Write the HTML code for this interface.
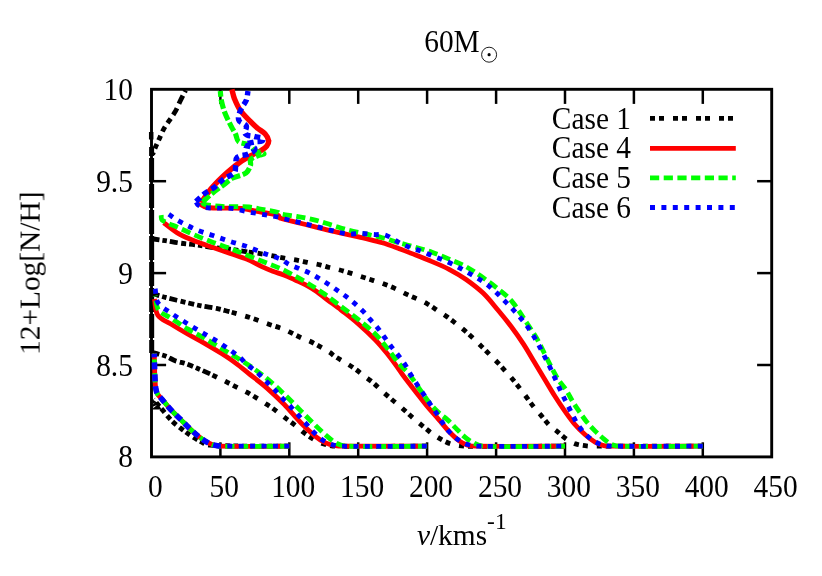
<!DOCTYPE html>
<html><head><meta charset="utf-8"><title>60M</title>
<style>
html,body{margin:0;padding:0;background:#fff;}
body{width:822px;height:576px;overflow:hidden;}
svg{display:block;}
text{font-family:"Liberation Serif",serif;font-size:29.4px;fill:#000;}
</style></head><body>
<svg width="822" height="576" viewBox="0 0 822 576">
<rect width="822" height="576" fill="#fff"/>
<g stroke="#000" stroke-width="2.5" fill="none">
<rect x="151.5" y="89.3" width="620.2" height="367.6" stroke-width="2.9"/>
<line x1="220.4" y1="456.9" x2="220.4" y2="442.29999999999995"/>
<line x1="220.4" y1="89.3" x2="220.4" y2="103.89999999999999"/>
<line x1="289.3" y1="456.9" x2="289.3" y2="442.29999999999995"/>
<line x1="289.3" y1="89.3" x2="289.3" y2="103.89999999999999"/>
<line x1="358.2" y1="456.9" x2="358.2" y2="442.29999999999995"/>
<line x1="358.2" y1="89.3" x2="358.2" y2="103.89999999999999"/>
<line x1="427.1" y1="456.9" x2="427.1" y2="442.29999999999995"/>
<line x1="427.1" y1="89.3" x2="427.1" y2="103.89999999999999"/>
<line x1="496.1" y1="456.9" x2="496.1" y2="442.29999999999995"/>
<line x1="496.1" y1="89.3" x2="496.1" y2="103.89999999999999"/>
<line x1="565.0" y1="456.9" x2="565.0" y2="442.29999999999995"/>
<line x1="565.0" y1="89.3" x2="565.0" y2="103.89999999999999"/>
<line x1="633.9" y1="456.9" x2="633.9" y2="442.29999999999995"/>
<line x1="633.9" y1="89.3" x2="633.9" y2="103.89999999999999"/>
<line x1="702.8" y1="456.9" x2="702.8" y2="442.29999999999995"/>
<line x1="702.8" y1="89.3" x2="702.8" y2="103.89999999999999"/>
<line x1="151.5" y1="365.0" x2="166.1" y2="365.0"/>
<line x1="771.7" y1="365.0" x2="757.1" y2="365.0"/>
<line x1="151.5" y1="273.1" x2="166.1" y2="273.1"/>
<line x1="771.7" y1="273.1" x2="757.1" y2="273.1"/>
<line x1="151.5" y1="181.2" x2="166.1" y2="181.2"/>
<line x1="771.7" y1="181.2" x2="757.1" y2="181.2"/>
</g>
<g id="curves" stroke-linecap="butt">
<path d="M702.8,446.2 C667.8,446.2 632.7,446.2 597.7,446.2 C594.6,446.2 591.5,446.4 588.4,446.1 C584.1,445.7 579.7,445.2 575.6,443.9 C572.6,443.0 569.7,441.4 567.1,439.6 C563.4,437.1 560.3,433.9 556.8,431.1 C554.3,429.1 551.5,427.4 549.2,425.1 C546.1,422.0 543.6,418.3 540.7,414.9 C538.7,412.6 536.6,410.5 534.7,408.1 C532.0,404.7 529.5,401.2 526.9,397.7 C524.9,395.0 522.9,392.3 520.9,389.7 C518.1,386.1 515.3,382.5 512.4,379.0 C510.5,376.7 508.4,374.5 506.4,372.2 C503.6,369.1 500.8,365.9 497.9,362.8 C495.7,360.5 493.4,358.3 491.1,356.0 C488.0,352.9 484.8,349.7 481.7,346.6 C479.4,344.3 477.2,342.0 474.9,339.8 C471.8,336.9 468.7,334.1 465.5,331.3 C463.0,329.1 460.5,327.0 457.9,325.0 C454.4,322.3 451.0,319.6 447.4,317.0 C444.9,315.2 442.3,313.6 439.7,311.9 C435.7,309.3 431.9,306.6 427.8,304.2 C425.4,302.8 422.9,301.5 420.3,300.3 C416.1,298.3 411.7,296.7 407.5,294.7 C403.2,292.7 399.1,290.3 394.8,288.4 C390.6,286.5 386.3,284.9 382.0,283.3 C379.2,282.3 376.3,281.5 373.5,280.6 C369.2,279.2 365.0,277.9 360.7,276.5 C357.6,275.5 354.5,274.4 351.3,273.4 C347.2,272.1 343.0,270.8 338.8,269.7 C335.7,268.9 332.5,268.3 329.4,267.5 C326.3,266.7 323.2,265.6 320.0,264.9 C315.8,263.9 311.5,263.3 307.3,262.4 C303.9,261.7 300.5,260.8 297.0,260.2 C292.8,259.4 288.5,258.9 284.3,258.1 C277.6,256.9 270.9,255.4 264.2,254.3 C258.6,253.3 252.9,252.6 247.2,251.8" fill="none" stroke="#000" stroke-width="4.8" stroke-linejoin="round" stroke-dasharray="5 4 5 9"/>
<path d="M153.5,239.0 C157.5,239.6 161.4,240.1 165.4,240.7 C170.5,241.5 175.6,242.5 180.8,243.2 C185.9,243.9 191.0,244.2 196.1,244.9 C201.8,245.7 207.4,246.8 213.1,247.5 C218.8,248.2 224.5,248.5 230.2,249.2 C235.9,249.9 241.5,250.9 247.2,251.8" fill="none" stroke="#000" stroke-width="4.8" stroke-linejoin="round" stroke-dasharray="6 3 4.5 3 8 3.5 5 3"/>
<path d="M565.0,446.2 C532.0,446.2 499.0,446.8 466.0,446.2 C461.4,446.1 456.9,445.4 452.4,444.3 C449.4,443.6 446.6,442.3 443.9,440.9 C440.1,438.9 436.4,436.6 432.8,434.1 C430.1,432.3 427.7,430.1 425.2,428.1 C421.7,425.3 418.3,422.5 414.9,419.6 C412.3,417.4 409.8,415.1 407.3,412.8 C404.7,410.5 402.2,408.2 399.6,406.0 C396.2,403.1 392.8,400.4 389.4,397.5 C387.1,395.5 384.8,393.5 382.6,391.5 C379.2,388.4 375.9,385.1 372.4,382.1 C370.2,380.3 367.8,378.7 365.5,377.0 C361.8,374.2 358.3,371.2 354.5,368.5 C352.1,366.8 349.6,365.2 347.1,363.7 C343.1,361.2 339.0,359.0 335.1,356.5 C333.3,355.3 331.8,353.8 330.0,352.6 C327.5,351.0 325.0,349.5 322.4,348.0 C318.4,345.8 314.5,343.5 310.4,341.5 C307.7,340.2 304.7,339.4 301.9,338.1 C297.9,336.3 294.0,334.1 290.0,332.2 C287.7,331.1 285.4,329.8 283.0,328.9 C277.9,327.0 272.7,325.6 267.6,323.8 C261.9,321.9 256.3,319.6 250.6,317.8 C243.9,315.6 237.0,313.8 230.2,311.8" fill="none" stroke="#000" stroke-width="4.8" stroke-linejoin="round" stroke-dasharray="5 4 5 9"/>
<path d="M153.5,294.0 C157.5,295.1 161.4,296.4 165.4,297.4 C171.1,298.9 176.8,300.2 182.5,301.6 C188.7,303.1 194.9,304.6 201.2,305.9 C206.3,306.9 211.4,307.4 216.5,308.4 C221.1,309.3 225.6,310.7 230.2,311.8" fill="none" stroke="#000" stroke-width="4.8" stroke-linejoin="round" stroke-dasharray="6 3 4.5 3 8 3.5 5 3"/>
<path d="M427.1,446.2 C397.1,446.2 367.0,446.5 336.9,446.2 C334.0,446.2 331.2,445.8 328.4,445.2 C325.5,444.6 322.6,443.8 319.8,442.6 C317.1,441.5 314.7,439.9 312.2,438.4 C309.6,436.8 307.0,435.1 304.5,433.2 C301.0,430.5 297.8,427.5 294.3,424.7 C292.1,422.9 289.8,421.3 287.5,419.6 C283.8,416.8 280.1,413.9 276.4,411.1 C273.6,409.0 270.8,407.0 267.9,405.1 C264.8,403.1 261.7,401.1 258.5,399.2 C254.8,396.9 251.0,394.5 247.2,392.4 C243.9,390.6 240.4,389.0 237.0,387.3 C232.5,385.0 227.9,382.7 223.4,380.4 C219.4,378.4 215.4,376.5 211.4,374.5" fill="none" stroke="#000" stroke-width="4.8" stroke-linejoin="round" stroke-dasharray="5 4 5 9"/>
<path d="M153.5,352.7 C157.5,353.8 161.5,354.7 165.4,356.1 C169.0,357.4 172.1,359.6 175.7,360.9 C179.0,362.1 182.6,362.6 185.9,363.7 C189.9,365.1 193.9,366.8 197.8,368.5 C202.4,370.4 206.9,372.5 211.4,374.5" fill="none" stroke="#000" stroke-width="4.8" stroke-linejoin="round" stroke-dasharray="6 3 4.5 3 8 3.5 5 3"/>
<path d="M289.3,446.2 C262.8,445.9 236.2,446.5 209.7,445.2 C206.7,445.0 203.9,443.2 201.2,441.8 C197.7,440.0 194.3,438.0 191.0,435.8 C187.8,433.7 184.7,431.4 181.6,429.0 C178.4,426.5 175.1,424.1 172.3,421.3 C168.6,417.6 165.4,413.4 162.0,409.4 C159.1,406.0 156.3,402.6 153.5,399.2" fill="none" stroke="#000" stroke-width="4.8" stroke-linejoin="round" stroke-dasharray="5 3 5 4"/>
<path d="M152.6,399.5 L157.5,402.8 L162.8,411.5 L160,409.6 L152.6,409.6 Z" fill="#000" stroke="none"/>
<path d="M153.2,406.4 L157,405 L153.2,408.3 Z M153.4,403.4 L154.6,402.6 L153.4,404.4 Z" fill="#fff" stroke="none"/>
<path d="M151.7,353 L151.6,147" fill="none" stroke="#000" stroke-width="5" stroke-linejoin="round" stroke-dasharray="24 2" stroke-dashoffset="11"/>
<path d="M185.6,90.3 C183.6,94.3 181.5,98.3 179.6,102.3 C178.3,105.1 177.3,108.0 175.8,110.7 C173.8,114.2 171.4,117.4 169.2,120.7 C167.2,123.7 165.0,126.6 163.3,129.8 C161.7,132.7 160.6,135.9 159.2,139.0 C157.8,142.1 156.3,145.1 155.0,148.2 C154.1,150.3 153.4,152.4 152.6,154.5" fill="none" stroke="#000" stroke-width="4.8" stroke-linejoin="round" stroke-dasharray="2 4 9 5 7.5 4.5 5.5 4.5 5.5 4.5 5 4 5 4 5 4 40 0"/>
<path d="M151.2,132 V139.5" fill="none" stroke="#000" stroke-width="4.5" stroke-linejoin="round"/>
<path d="M702.8,446.2 C672.6,446.2 642.4,446.4 612.2,446.2 C609.4,446.2 606.5,446.3 603.7,445.6 C600.7,444.9 597.8,443.8 595.2,442.2 C591.5,440.0 588.1,437.3 584.9,434.5 C581.3,431.3 577.8,428.0 574.7,424.3 C571.0,420.0 567.8,415.3 564.5,410.7 C561.0,405.7 557.6,400.5 554.3,395.3 C550.7,389.6 547.4,383.8 543.9,378.1 C540.5,372.4 537.1,366.8 533.7,361.1 C530.3,355.4 527.1,349.6 523.5,344.1 C519.7,338.3 515.7,332.6 511.5,327.0 C507.1,321.2 502.6,315.6 497.9,310.0 C493.1,304.3 488.5,298.3 483.1,293.1 C477.9,288.1 472.0,283.7 466.1,279.5 C460.7,275.7 455.0,272.4 449.1,269.3 C443.6,266.4 437.8,264.0 432.0,261.6 C426.4,259.2 420.7,257.0 415.0,254.8 C409.8,252.8 404.5,250.7 399.2,248.8 C393.6,246.7 388.0,244.5 382.2,242.8 C376.6,241.1 370.9,239.9 365.2,238.5 C359.5,237.1 353.8,235.9 348.1,234.6 C342.4,233.3 336.7,232.2 331.1,230.9 C325.4,229.6 319.8,228.0 314.1,226.6 C308.4,225.2 302.7,223.8 297.0,222.4 C291.3,221.0 285.5,220.1 280.0,218.1 C279.1,217.8 279.4,215.9 278.5,215.6 C273.8,214.0 268.7,213.6 263.8,212.6 C259.9,211.8 255.9,211.1 252.0,210.4 C248.5,209.7 245.1,208.7 241.6,208.4 C236.7,208.0 231.8,208.3 226.9,208.2 C220.5,208.0 214.0,208.4 207.7,207.5 C205.2,207.2 202.7,206.1 200.6,204.6 C200.0,204.2 200.9,203.3 201.1,202.6" fill="none" stroke="#f00" stroke-width="4.8" stroke-linejoin="round"/>
<path d="M565.0,446.2 C535.4,446.2 505.9,446.5 476.3,446.2 C473.4,446.2 470.5,446.1 467.7,445.2 C464.7,444.3 461.8,442.8 459.2,440.9 C455.5,438.2 452.2,434.8 449.0,431.5 C445.4,427.7 442.2,423.5 438.8,419.6 C434.9,415.0 430.7,410.6 426.9,406.0 C422.8,401.0 418.9,395.8 414.9,390.7 C410.9,385.6 406.9,380.5 403.0,375.3 C401.0,372.6 399.3,369.8 397.3,367.1 C394.0,362.5 390.7,357.9 387.1,353.5 C383.3,348.8 379.4,344.1 375.2,339.8 C369.7,334.2 364.0,328.9 358.1,323.7 C352.6,318.9 346.8,314.5 341.1,310.0 C335.5,305.7 329.7,301.6 324.1,297.3 C321.6,295.4 319.2,293.3 316.6,291.5 C313.1,289.1 309.4,286.9 305.7,284.9 C302.1,283.0 298.4,281.5 294.7,279.8 C291.1,278.2 287.5,276.5 283.8,275.0 C280.2,273.6 276.4,272.6 272.8,271.2 C269.1,269.8 265.5,268.3 261.9,266.6 C256.9,264.3 252.2,261.5 247.2,259.4 C241.7,257.1 235.9,255.5 230.2,253.5 C224.5,251.5 218.8,249.5 213.1,247.5 C207.4,245.5 201.7,243.7 196.1,241.5 C190.3,239.2 184.4,237.0 179.0,233.9 C173.5,230.8 168.8,226.5 163.7,222.8" fill="none" stroke="#f00" stroke-width="4.8" stroke-linejoin="round"/>
<path d="M427.1,446.2 C399.9,446.2 372.6,446.3 345.4,446.2 C342.0,446.2 338.6,446.3 335.2,445.7 C331.7,445.1 328.2,444.1 325.0,442.6 C321.3,440.8 317.9,438.4 314.7,435.8 C309.9,431.9 305.4,427.5 301.1,423.0 C295.2,417.0 290.0,410.3 284.1,404.3 C278.6,398.7 272.9,393.3 267.0,388.1 C261.5,383.3 255.7,379.0 250.0,374.5 C245.1,370.6 240.3,366.6 235.3,362.9 C230.9,359.6 226.3,356.6 221.6,353.6 C216.0,350.1 210.3,346.7 204.6,343.4 C199.0,340.2 193.2,337.2 187.6,334.0 C181.8,330.7 176.1,327.3 170.5,323.8 C166.2,321.1 160.6,319.5 157.8,315.2 C154.8,310.6 155.5,304.5 154.4,299.1" fill="none" stroke="#f00" stroke-width="4.8" stroke-linejoin="round"/>
<path d="M289.3,446.2 C266.2,446.2 243.1,446.8 220.0,446.2 C217.1,446.1 214.1,445.4 211.4,444.3 C207.8,442.8 204.4,440.7 201.2,438.4 C197.6,435.8 194.3,432.8 191.0,429.8 C187.5,426.5 184.2,423.0 180.8,419.6 C177.4,416.2 173.8,413.0 170.5,409.4 C167.5,406.1 164.8,402.6 162.0,399.2 C160.4,397.3 158.4,395.7 157.2,393.5 C156.3,391.8 156.0,389.9 155.7,388.0 C155.2,384.4 155.1,380.7 154.9,377.0 C154.7,372.7 154.6,368.3 154.5,364.0 C154.4,360.5 154.4,357.1 154.3,353.6" fill="none" stroke="#f00" stroke-width="4.8" stroke-linejoin="round"/>
<path d="M201.1,202.6 C204.8,197.6 208.0,192.3 212.1,187.6 C216.7,182.3 221.7,177.5 226.9,172.8 C231.6,168.6 236.5,164.6 241.6,161.0 C244.9,158.7 248.5,157.0 252.0,155.1 C254.9,153.5 258.0,152.4 260.8,150.7 C262.9,149.4 265.2,148.2 266.7,146.2 C267.9,144.6 268.9,142.5 268.6,140.5 C268.3,138.0 266.7,135.6 265.0,133.7 C263.0,131.5 260.1,130.4 257.9,128.5 C255.3,126.3 252.9,124.0 250.6,121.6 C247.1,118.0 243.3,114.6 240.4,110.5 C237.8,106.9 236.1,102.7 234.4,98.6 C233.2,95.6 232.7,92.4 231.9,89.3" fill="none" stroke="#f00" stroke-width="5.4" stroke-linejoin="round"/>
<path d="M702.8,446.2 C675.4,446.2 648.1,446.7 620.7,446.2 C617.8,446.2 614.8,445.8 612.2,444.7 C609.0,443.3 606.4,441.0 603.7,438.8 C600.7,436.4 597.9,433.8 595.2,431.1 C592.2,428.1 589.3,425.0 586.6,421.7 C584.2,418.7 582.0,415.6 579.8,412.4 C577.5,409.0 575.1,405.6 573.0,402.1 C570.6,398.2 568.7,394.0 566.2,390.2 C563.9,386.6 560.8,383.6 558.5,380.0 C555.9,376.0 553.7,371.7 551.5,367.5 C549.1,362.9 546.9,358.2 544.5,353.5 C541.9,348.3 539.4,343.0 536.5,338.0 C533.4,332.7 529.9,327.6 526.5,322.5 C521.8,315.5 517.5,308.1 512.1,301.6 C508.7,297.4 504.4,294.0 500.2,290.6 C494.7,286.1 488.9,281.9 483.1,277.8 C477.6,273.9 472.0,270.0 466.1,266.7 C460.7,263.7 454.8,261.5 449.1,259.1 C443.4,256.7 437.8,254.3 432.0,252.3 C426.4,250.3 420.7,248.7 415.0,247.1 C409.8,245.6 404.4,244.3 399.2,242.8 C393.5,241.2 387.9,239.2 382.2,237.7 C376.6,236.2 370.9,235.2 365.2,233.9 C359.5,232.6 353.8,231.5 348.1,230.0 C342.4,228.5 336.8,226.6 331.1,224.9 C325.4,223.2 319.8,221.2 314.1,219.8 C308.5,218.4 302.7,217.4 297.0,216.4 C291.4,215.4 285.6,215.0 280.0,213.8 C279.4,213.7 279.1,212.7 278.5,212.5 C273.7,211.3 268.7,210.6 263.8,209.7 C258.9,208.8 254.0,207.6 249.0,207.0 C245.6,206.6 242.1,206.7 238.7,206.7 C234.8,206.6 230.8,206.9 226.9,206.7 C222.0,206.5 217.0,206.2 212.1,205.6 C209.2,205.3 206.2,205.0 203.5,204.0 C202.8,203.7 202.8,202.7 202.5,202.0" fill="none" stroke="#0f0" stroke-width="4.8" stroke-linejoin="round" stroke-dasharray="9.2 4.5"/>
<path d="M565.0,446.2 C537.6,446.2 510.3,447.3 483.0,446.2 C479.4,446.1 476.1,444.2 472.9,442.6 C469.8,441.0 467.0,438.9 464.3,436.6 C461.2,434.0 458.6,430.9 455.8,428.1 C453.0,425.3 450.3,422.3 447.3,419.6 C444.6,417.2 441.4,415.3 438.8,412.8 C435.2,409.3 431.7,405.6 428.6,401.7 C424.9,397.1 421.8,392.1 418.4,387.3 C415.0,382.5 411.9,377.4 408.1,372.8 C405.4,369.5 401.8,367.0 399.0,363.7 C395.3,359.4 392.3,354.5 388.8,350.1 C384.4,344.6 380.2,338.9 375.2,333.9 C369.9,328.6 363.9,324.1 358.1,319.4 C352.6,315.0 346.8,310.9 341.1,306.6 C335.4,302.3 329.9,297.9 324.1,293.8 C318.5,289.9 312.8,286.3 307.0,282.8 C301.4,279.5 295.7,276.5 290.0,273.4 C286.7,271.6 283.4,269.8 280.0,268.3 C274.8,266.0 269.5,264.1 264.2,262.0 C258.5,259.7 252.9,257.5 247.2,255.2 C241.5,252.9 235.9,250.5 230.2,248.4 C224.5,246.3 218.8,244.5 213.1,242.4 C207.4,240.3 201.7,238.0 196.1,235.6 C190.3,233.2 184.7,230.5 179.0,227.9 C173.3,225.3 167.1,223.6 162.0,220.0 C160.7,219.0 161.5,216.7 161.2,215.1" fill="none" stroke="#0f0" stroke-width="4.8" stroke-linejoin="round" stroke-dasharray="9.2 4.5"/>
<path d="M427.1,446.2 C400.5,446.2 373.8,447.0 347.1,446.2 C343.6,446.1 340.0,445.1 336.9,443.5 C333.1,441.6 329.9,438.6 326.6,435.8 C322.5,432.3 318.6,428.5 314.7,424.7 C310.1,420.2 305.6,415.6 301.1,411.1 C295.4,405.4 289.9,399.6 284.1,394.1 C278.5,388.8 272.9,383.6 267.0,378.7 C261.5,374.2 255.8,370.0 250.0,366.0 C245.8,363.1 241.4,360.5 237.0,357.8 C231.9,354.7 226.7,351.6 221.6,348.5 C215.9,345.1 210.3,341.5 204.6,338.2 C199.0,335.0 193.1,332.2 187.6,328.9 C181.8,325.4 176.2,321.5 170.5,317.8 C166.5,315.2 161.3,314.0 158.6,310.1 C155.8,306.0 156.3,300.5 155.2,295.7" fill="none" stroke="#0f0" stroke-width="4.8" stroke-linejoin="round" stroke-dasharray="9.2 4.5"/>
<path d="M289.3,446.2 C266.2,446.2 243.1,446.8 220.0,446.2 C217.1,446.1 214.1,445.4 211.4,444.3 C207.8,442.8 204.4,440.7 201.2,438.4 C197.6,435.8 194.3,432.8 191.0,429.8 C187.5,426.5 184.2,423.0 180.8,419.6 C177.4,416.2 173.8,413.0 170.5,409.4 C167.5,406.1 164.8,402.6 162.0,399.2 C160.4,397.3 158.4,395.7 157.2,393.5 C156.3,391.8 156.0,389.9 155.7,388.0 C155.2,384.4 155.1,380.7 154.9,377.0 C154.7,372.7 154.6,368.3 154.5,364.0 C154.4,360.5 154.4,357.1 154.3,353.6" fill="none" stroke="#0f0" stroke-width="4.8" stroke-linejoin="round" stroke-dasharray="9.2 4.5"/>
<path d="M202.5,202.0 C205.7,199.1 208.8,196.1 212.1,193.4 C215.9,190.3 220.0,187.5 223.9,184.6 C226.9,182.4 229.5,179.7 232.8,178.0 C237.0,175.8 242.2,175.6 246.1,172.8 C248.4,171.1 249.5,168.1 250.5,165.4 C251.2,163.5 249.5,161.0 250.8,159.5 C252.9,157.1 256.4,156.5 259.3,155.1 C260.8,154.4 264.8,154.6 263.8,153.4 C262.2,151.4 258.6,152.8 256.4,151.5 C253.5,149.8 251.9,146.4 249.0,144.8 C245.9,143.1 241.5,144.0 238.7,141.8 C236.6,140.2 236.8,136.8 235.7,134.4 C234.6,132.1 233.1,129.9 231.9,127.6 C229.5,122.8 226.9,118.1 225.0,113.1 C223.4,109.0 222.2,104.6 221.3,100.3 C220.7,97.3 220.6,94.1 220.3,91.0" fill="none" stroke="#0f0" stroke-width="5.2" stroke-linejoin="round" stroke-dasharray="9.5 2.8"/>
<path d="M702.8,446.2 C674.0,446.2 645.3,446.4 616.5,446.2 C612.8,446.2 609.0,446.4 605.4,445.6 C601.5,444.7 597.8,443.3 594.3,441.3 C591.1,439.5 588.4,437.1 585.8,434.5 C582.9,431.6 580.4,428.4 578.1,425.1 C576.1,422.2 574.6,418.9 573.0,415.8 C571.2,412.4 569.6,408.9 567.9,405.5 C566.2,402.1 564.4,398.7 562.8,395.3 C561.0,391.7 559.4,388.0 557.7,384.3 C555.3,379.1 553.1,373.9 550.7,368.8 C548.5,364.2 546.2,359.6 543.9,355.1 C541.1,349.7 538.5,344.2 535.4,339.0 C532.3,333.7 528.9,328.5 525.2,323.6 C521.4,318.6 517.1,314.0 512.9,309.3 C510.5,306.6 507.8,304.2 505.3,301.6 C502.5,298.8 499.7,295.8 496.8,293.1 C494.0,290.5 491.2,287.9 488.2,285.5 C485.5,283.3 482.6,281.4 479.7,279.5 C476.4,277.4 472.9,275.4 469.5,273.5 C464.4,270.6 459.4,267.7 454.2,265.0 C450.6,263.1 446.9,261.5 443.1,259.9 C439.5,258.4 435.7,257.2 432.0,255.7 C428.6,254.3 425.3,252.7 421.8,251.4 C418.3,250.1 414.7,249.2 411.2,247.9 C407.8,246.6 404.3,245.3 401.0,243.7 C398.0,242.2 395.4,240.1 392.4,238.5 C389.7,237.0 387.0,235.3 384.0,234.6 C381.2,234.0 378.3,234.7 375.4,234.6 C370.3,234.3 365.1,233.5 360.0,233.4 C356.0,233.3 352.0,234.4 348.1,234.0 C342.3,233.4 336.7,231.6 331.1,230.3 C325.4,229.0 319.8,227.4 314.1,226.0 C308.4,224.6 302.7,223.2 297.0,221.8 C293.0,220.8 289.0,220.0 285.0,219.0 C282.8,218.5 280.7,217.7 278.5,217.2 C273.6,216.2 268.7,215.5 263.8,214.6 C259.9,213.9 255.9,213.3 252.0,212.6 C248.5,211.9 245.1,211.1 241.6,210.4 C238.2,209.7 234.8,208.7 231.3,208.4 C227.4,208.0 223.4,208.3 219.5,208.2 C214.6,208.0 209.7,208.2 204.8,207.5 C202.4,207.1 200.0,206.3 198.0,205.0 C196.9,204.3 196.6,202.7 195.9,201.6" fill="none" stroke="#00f" stroke-width="4.8" stroke-linejoin="round" stroke-dasharray="5 6.4"/>
<path d="M168.8,214.3 C172.2,216.6 175.4,219.1 179.0,221.1 C184.6,224.2 190.2,227.1 196.1,229.6 C201.6,232.0 207.4,233.6 213.1,235.6 C218.8,237.6 224.5,239.6 230.2,241.5 C235.8,243.3 241.6,244.6 247.2,246.6 C253.0,248.6 258.5,251.4 264.2,253.5 C269.8,255.6 275.8,257.0 281.3,259.4 C283.9,260.5 286.0,262.8 288.5,264.1 C291.8,265.8 295.3,267.0 298.7,268.4 C302.3,270.0 306.1,271.3 309.6,273.1 C313.4,275.0 317.0,277.2 320.7,279.4 C323.9,281.3 326.9,283.3 330.0,285.3 C333.2,287.4 336.3,289.6 339.4,291.8 C342.6,294.0 345.8,296.2 348.8,298.6 C351.7,300.9 354.5,303.3 357.3,305.8 C359.3,307.6 361.3,309.4 363.2,311.4 C365.6,314.0 367.8,316.8 370.1,319.4 C372.6,322.3 375.3,324.9 377.7,327.9 C380.1,330.9 382.2,334.2 384.5,337.3 C386.8,340.4 389.0,343.6 391.3,346.6 C393.5,349.5 396.0,352.3 398.2,355.2 C400.5,358.2 402.9,361.3 405.0,364.5 C407.1,367.7 408.7,371.2 410.7,374.5 C412.6,377.6 414.6,380.7 416.6,383.8 C418.9,387.3 421.2,390.7 423.5,394.1 C425.8,397.5 428.0,400.9 430.3,404.3 C432.2,407.2 434.3,409.9 436.2,412.8 C438.3,415.9 440.1,419.1 442.2,422.2 C444.4,425.4 446.4,428.6 449.0,431.5 C451.6,434.3 454.4,437.0 457.5,439.2 C460.4,441.3 463.5,443.1 466.9,444.3 C470.5,445.5 474.2,446.1 478.0,446.2 C507.0,446.8 536.0,446.2 565.0,446.2" fill="none" stroke="#00f" stroke-width="4.8" stroke-linejoin="round" stroke-dasharray="5 6.4"/>
<path d="M155.2,288.8 C156.1,293.4 155.3,298.6 157.8,302.5 C160.7,307.1 166.1,309.5 170.5,312.7 C176.0,316.7 181.8,320.2 187.6,323.8 C193.2,327.3 198.9,330.6 204.6,334.0 C210.3,337.4 216.1,340.5 221.6,344.2 C228.0,348.5 234.4,353.0 240.4,357.8 C242.4,359.4 243.6,361.7 245.5,363.4 C248.7,366.2 252.5,368.3 255.7,371.1 C259.1,374.0 262.1,377.3 265.3,380.4 C268.7,383.8 272.2,387.2 275.5,390.7 C278.1,393.5 280.6,396.4 283.2,399.2 C285.7,401.8 288.4,404.2 290.9,406.8 C293.5,409.6 295.9,412.5 298.5,415.4 C301.0,418.2 303.6,421.1 306.2,423.9 C308.5,426.4 310.6,429.1 313.0,431.5 C315.7,434.2 318.4,437.0 321.5,439.2 C324.4,441.3 327.5,443.1 330.9,444.3 C334.5,445.5 338.2,446.1 342.0,446.2 C370.4,446.8 398.8,446.2 427.1,446.2" fill="none" stroke="#00f" stroke-width="4.8" stroke-linejoin="round" stroke-dasharray="5 6.4"/>
<path d="M289.3,446.2 L220.0,446.2" fill="none" stroke="#00f" stroke-width="4.8" stroke-linejoin="round" stroke-dasharray="5 6.4"/>
<path d="M220.0,446.2 C217.1,445.6 214.1,445.4 211.4,444.3 C207.8,442.8 204.4,440.7 201.2,438.4 C197.6,435.8 194.3,432.8 191.0,429.8 C187.5,426.5 184.2,423.0 180.8,419.6 C177.4,416.2 173.8,413.0 170.5,409.4 C167.5,406.1 164.8,402.6 162.0,399.2 C160.4,397.3 158.4,395.7 157.2,393.5 C156.3,391.8 156.0,389.9 155.7,388.0 C155.2,384.4 155.1,380.7 154.9,377.0 C154.7,372.7 154.6,368.3 154.5,364.0 C154.4,360.5 154.4,357.1 154.3,353.6" fill="none" stroke="#00f" stroke-width="5.6" stroke-linejoin="round" stroke-dasharray="7 5"/>
<path d="M195.9,201.6 C198.9,198.9 201.6,195.9 204.8,193.4 C208.0,190.9 211.9,189.3 215.1,186.8 C218.3,184.4 220.7,181.0 223.9,178.7 C227.1,176.4 231.7,175.8 234.3,172.8 C236.0,170.9 235.2,167.9 235.7,165.4 C236.2,162.7 235.2,159.2 237.2,157.3 C239.8,154.8 244.2,155.8 247.5,154.3 C250.2,153.1 254.4,152.1 254.9,149.2 C255.3,147.0 251.0,147.1 249.0,146.2 C247.6,145.6 243.4,145.7 244.6,144.8 C247.5,142.7 251.5,142.8 254.9,141.8 C257.6,141.0 263.0,142.4 263.0,139.6 C263.0,136.7 257.6,137.5 254.9,136.6 C251.7,135.5 247.4,136.3 245.3,133.7 C243.7,131.7 247.4,128.3 246.3,125.9 C244.9,123.0 239.6,123.0 238.7,119.9 C237.6,116.3 239.8,112.3 241.2,108.8 C242.4,105.7 245.1,103.4 246.3,100.3 C247.4,97.4 247.4,94.1 248.0,91.0" fill="none" stroke="#00f" stroke-width="5.4" stroke-linejoin="round" stroke-dasharray="6 4"/>
</g>
<g id="legend">
<path d="M650,118.4 H735.8" stroke="#000" stroke-width="4.8" stroke-dasharray="5 4 5 9" fill="none"/>
<path d="M650,148.3 H735.8" stroke="#f00" stroke-width="4.8" fill="none"/>
<path d="M650,177.9 H735.8" stroke="#0f0" stroke-width="4.8" stroke-dasharray="9.2 4.5" fill="none"/>
<path d="M650,207.5 H735.8" stroke="#00f" stroke-width="4.8" stroke-dasharray="5 6.4" fill="none"/>
</g>
<g id="labels" opacity="0.999">
<text transform="translate(155.4,497.1) scale(1,1.06)" text-anchor="middle" font-size="29.9">0</text>
<text transform="translate(224.3,497.1) scale(1,1.06)" text-anchor="middle" font-size="29.9">50</text>
<text transform="translate(293.2,497.1) scale(1,1.06)" text-anchor="middle" font-size="29.9">100</text>
<text transform="translate(362.1,497.1) scale(1,1.06)" text-anchor="middle" font-size="29.9">150</text>
<text transform="translate(431.0,497.1) scale(1,1.06)" text-anchor="middle" font-size="29.9">200</text>
<text transform="translate(500.0,497.1) scale(1,1.06)" text-anchor="middle" font-size="29.9">250</text>
<text transform="translate(568.9,497.1) scale(1,1.06)" text-anchor="middle" font-size="29.9">300</text>
<text transform="translate(637.8,497.1) scale(1,1.06)" text-anchor="middle" font-size="29.9">350</text>
<text transform="translate(706.7,497.1) scale(1,1.06)" text-anchor="middle" font-size="29.9">400</text>
<text transform="translate(775.6,497.1) scale(1,1.06)" text-anchor="middle" font-size="29.9">450</text>
<text transform="translate(132.9,467.4) scale(1,1.08)" text-anchor="end">8</text>
<text transform="translate(132.9,375.5) scale(1,1.08)" text-anchor="end">8.5</text>
<text transform="translate(132.9,283.6) scale(1,1.08)" text-anchor="end">9</text>
<text transform="translate(132.9,191.7) scale(1,1.08)" text-anchor="end">9.5</text>
<text transform="translate(132.9,99.8) scale(1,1.08)" text-anchor="end">10</text>
<text transform="translate(631.0,128.6) scale(1,1.07)" text-anchor="end">Case 1</text>
<text transform="translate(631.0,158.3) scale(1,1.07)" text-anchor="end">Case 4</text>
<text transform="translate(631.0,188.0) scale(1,1.07)" text-anchor="end">Case 5</text>
<text transform="translate(631.0,217.7) scale(1,1.07)" text-anchor="end">Case 6</text>
<text transform="translate(424.2,51.9) scale(1,1.05)" text-anchor="start">60M</text>
<text transform="translate(416.9,544.6) scale(1,1.01)" text-anchor="start"><tspan font-style="italic">v</tspan>/kms<tspan font-size="23.4" dy="-15">-1</tspan></text>
<text transform="translate(39.6,355.0) rotate(-90) scale(1,1.0)" text-anchor="start">12+Log[N/H]</text>
<circle cx="489.1" cy="54.7" r="7.5" fill="none" stroke="#000" stroke-width="0.9"/>
<circle cx="489.1" cy="54.7" r="1.6" fill="#000"/>
</g>
</svg>
</body></html>
